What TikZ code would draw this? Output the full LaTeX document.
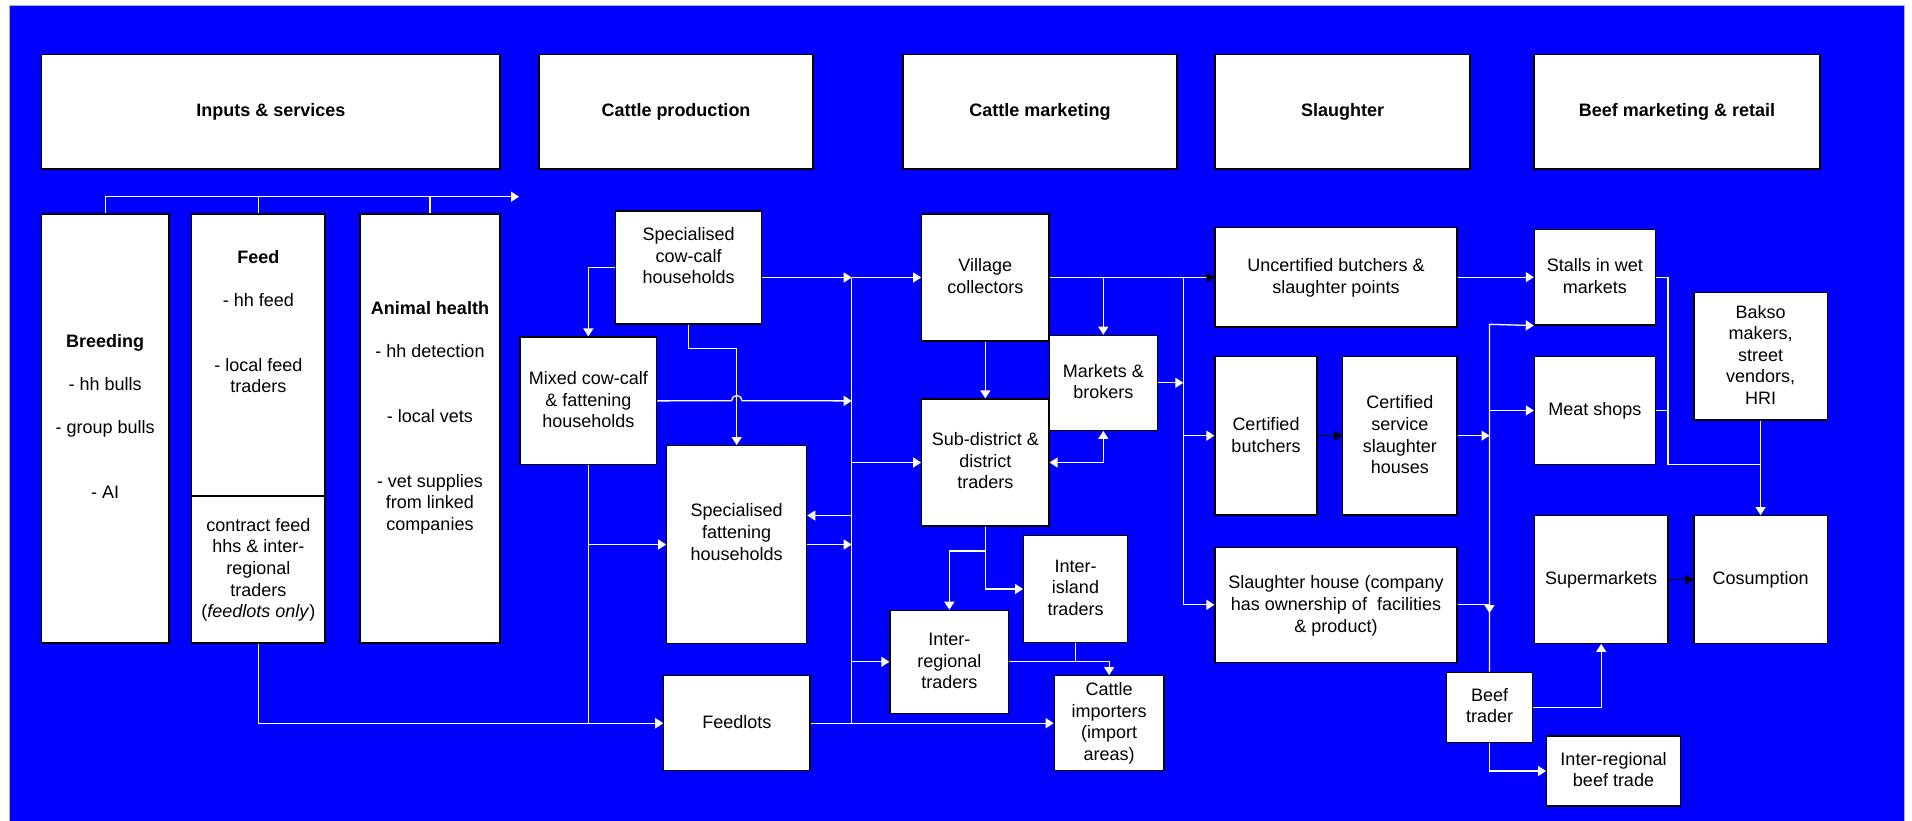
\documentclass[tikz,border=0pt]{standalone}
\usepackage{fontspec}
\setmainfont{Liberation Sans}
\usetikzlibrary{arrows.meta}
\newcommand\fs{\fontsize{18}{21.6}\selectfont}
\newcommand\NL{\\\strut}
\newcommand\bx[6]{%
  \pgfmathsetmacro\bxw{#4-#2}\pgfmathsetmacro\bxh{#5-#3}%
  \node[box,minimum width=\bxw pt,minimum height=\bxh pt] (#1) at ({(#2+#4)/2},{(#3+#5)/2}) {#6};}
\tikzset{
  box/.style={draw=black, fill=white, line width=1.2pt, inner sep=0pt, font=\fs\bfseries},
  txt/.style={align=center, inner sep=0pt, font=\fs, text=black},
  wire/.style={white, line width=1.3pt},
  blk/.style={black, line width=1.3pt, ->},
}
\begin{document}
\begin{tikzpicture}[x=1pt,y=-1pt,>={Triangle[length=8pt,width=10pt]}]
\useasboundingbox (0,0) rectangle (1912,820);
\fill[white] (0,0) rectangle (1912,820);
\filldraw[fill={rgb,255:red,0;green,0;blue,255}, draw=gray!60, line width=1pt] (9,5) rectangle (1904,822);

% headers
\bx{hin}{41.6}{54.3}{500}{169}{Inputs \& services}
\bx{hprod}{539}{54.3}{813}{169}{Cattle production}
\bx{hmkt}{903}{54.3}{1177}{169}{Cattle marketing}
\bx{hsl}{1215}{54.3}{1470}{169}{Slaughter}
\bx{hbeef}{1534}{54.3}{1820}{169}{Beef marketing \& retail}

% boxes
\bx{breed}{41.3}{214}{169}{643}{}
\bx{feed}{191.7}{214}{325}{496}{}
\bx{contract}{191.7}{496}{325}{643}{}
\bx{health}{360}{214}{500}{643}{}
\bx{cowcalf}{615.7}{211}{761.7}{324}{}
\bx{mixed}{520}{337}{656.7}{464.7}{}
\bx{fatten}{666.7}{445.7}{806.7}{643.3}{}
\bx{feedlots}{663.7}{675.7}{810}{770.7}{}
\bx{village}{921.7}{214}{1049}{341}{}
\bx{subdist}{921.7}{399}{1049}{526}{}
\bx{markets}{1049.3}{335.3}{1157.3}{430.3}{}
\bx{island}{1023.7}{535.7}{1127.3}{642.3}{}
\bx{interreg}{890}{610.3}{1008.7}{713.3}{}
\bx{importers}{1054.3}{675.7}{1164}{770.7}{}
\bx{uncert}{1215}{227.3}{1457}{327}{}
\bx{certb}{1215}{356.3}{1317}{515}{}
\bx{certs}{1342.7}{356.3}{1457}{515}{}
\bx{shouse}{1215}{547.3}{1457}{662.3}{}
\bx{stalls}{1534.4}{229.3}{1655.2}{325}{}
\bx{meat}{1534.4}{356.3}{1655.2}{464.7}{}
\bx{bakso}{1693.9}{292.3}{1827.2}{420}{}
\bx{super}{1534.4}{515.7}{1668}{643.3}{}
\bx{consum}{1693.9}{515.7}{1827.2}{643.3}{}
\bx{beeftr}{1446.2}{672.3}{1532.7}{742.3}{}
\bx{irbeef}{1546.6}{736}{1680.3}{806}{}

% texts
\node[txt] (tbreed) at (105.2,418.7) {\strut\textbf{Breeding}\NL\NL - hh bulls\NL\NL - group bulls\NL\NL\NL - AI};
\node[txt] (tfeed) at (258.3,323.5) {\strut\textbf{Feed}\NL\NL - hh feed\NL\NL\NL - local feed\NL traders};
\node[txt] (thealth) at (430,418.2) {\strut\textbf{Animal health}\NL\NL - hh detection\NL\NL\NL - local vets\NL\NL\NL - vet supplies\NL from linked\NL companies};
\node[txt] (tcontract) at (258.3,570.2) {\strut contract feed\NL hhs \& inter-\NL regional\NL traders\NL (\textit{feedlots only})};
\node[txt] (tcow) at (688.7,257.7) {\strut Specialised\NL cow-calf\NL households};
\node[txt] (tmix) at (588.3,401.7) {\strut Mixed cow-calf\NL \& fattening\NL households};
\node[txt] (tfat) at (736.7,534.2) {\strut Specialised\NL fattening\NL households};
\node[txt] (tfeedl) at (736.8,723.9) {\strut Feedlots};
\node[txt] (tvil) at (985.3,278.2) {\strut Village\NL collectors};
\node[txt] (tsub) at (985.3,463) {\strut Sub-district \&\NL district\NL traders};
\node[txt] (tmkt) at (1103.3,383.6) {\strut Markets \&\NL brokers};
\node[txt] (tisl) at (1075.5,589.5) {\strut Inter-\NL island\NL traders};
\node[txt] (tireg) at (949.3,662.7) {\strut Inter-\NL regional\NL traders};
\node[txt] (timp) at (1109.2,723.7) {\strut Cattle\NL importers\NL (import\NL areas)};
\node[txt] (tunc) at (1336,278.2) {\strut Uncertified butchers \&\NL slaughter points};
\node[txt] (tcb) at (1266,437) {\strut Certified\NL butchers};
\node[txt] (tcs) at (1399.9,437) {\strut Certified\NL service\NL slaughter\NL houses};
\node[txt] (tsh) at (1336,606.2) {\strut Slaughter house (company\NL has ownership of\ \ facilities\NL \& product)};
\node[txt] (tstall) at (1594.8,278.3) {\strut Stalls in wet\NL markets};
\node[txt] (tmeat) at (1594.8,411.2) {\strut Meat shops};
\node[txt] (tbakso) at (1760.6,357) {\strut Bakso\NL makers,\NL street\NL vendors,\NL HRI};
\node[txt] (tsuper) at (1601.2,580.2) {\strut Supermarkets};
\node[txt] (tcons) at (1760.6,580.2) {\strut Cosumption};
\node[txt] (tbeef) at (1489.5,707.7) {\strut Beef\NL trader};
\node[txt] (tirb) at (1613.5,771.7) {\strut Inter-regional\NL beef trade};

% coordinates
\coordinate (inbus) at (519,196.7);
\coordinate (busT) at (851.7,277.5);
\coordinate (busB) at (851.7,723.2);
\coordinate (sbT) at (1183.3,277.5);
\coordinate (rbT) at (1489.5,324.3);
\coordinate (mj) at (1668.1,464.7);

% inputs bus
\draw[wire,->] (breed.north) |- (inbus);
\draw[wire] (feed.north) -- (feed.north |- inbus);
\draw[wire] (health.north) -- (health.north |- inbus);

% production
\draw[wire,->] (cowcalf.west) -| (mixed.north);
\draw[wire] (busT) -- (busB);
\draw[wire,->] (cowcalf.east |- village.west) -- (busT);
\draw[wire,->] (busT) -- (village.west);
\draw[wire,->] (cowcalf.south) -- ++(0,23.7) -| (fatten.north);
\draw[wire,->] (mixed.east) -- (731.5,400.8) arc[start angle=180,end angle=0,radius=5.3pt] -- (busT |- mixed.east);
\draw[wire,->] (busT |- subdist.west) -- (subdist.west);
\draw[wire,->] (busT |- 0,515.5) -- (fatten.east |- 0,515.5);
\draw[wire,->] (fatten.east) -- (busT |- fatten.east);
\draw[wire,->] (mixed.south) |- (feedlots.west);
\draw[wire,->] (mixed.south |- fatten.west) -- (fatten.west);
\draw[wire,->] (contract.south) |- (feedlots.west);
\draw[wire,->] (busT |- interreg.west) -- (interreg.west);
\draw[wire,->] (feedlots.east) -- (importers.west);

% marketing
\draw[wire,->] (village.south) -- (subdist.north);
\draw[wire,-{Triangle[length=8pt,width=10pt,color=black,fill=black]}] (village.east) -- (uncert.west |- village.east);
\draw[wire,->] (markets.north |- village.east) -- (markets.north);
\draw[wire] (sbT) -- (sbT |- shouse.west);
\draw[wire,->] (markets.east) -- (sbT |- markets.east);
\draw[wire,->] (sbT |- certb.west) -- (certb.west);
\draw[wire,->] (sbT |- shouse.west) -- (shouse.west);
\draw[wire,<->] (subdist.east) -| (markets.south);
\draw[wire,->] (subdist.south) -- ++(0,24.3) -| (interreg.north);
\draw[wire,->] (subdist.south) |- (island.west);
\draw[wire] (island.south) -- (island.south |- interreg.east);
\draw[wire,->] (interreg.east) -| (importers.north);

% slaughter / retail
\draw[blk] (certb.east) -- (certs.west);
\draw[wire,->] (uncert.east) -- (stalls.west |- uncert.east);
\draw[wire,->] (rbT) -- (stalls.south west);
\draw[wire] (rbT) -- (beeftr.north);
\draw[wire,->] (rbT |- meat.west) -- (meat.west);
\draw[wire,->] (certs.east) -- (rbT |- certs.east);
\draw[wire] (shouse.east) -- (rbT |- shouse.east);
\draw[wire,->] (rbT |- 0,595) -- (rbT |- 0,613);
\draw[wire,->] (beeftr.east) -| (super.south);
\draw[wire,->] (beeftr.south) |- (irbeef.west);
\draw[wire] (stalls.east) -| (mj) -- (mj -| bakso.south);
\draw[wire] (meat.east) -- (mj |- meat.east);
\draw[wire,->] (bakso.south) -- (consum.north);
\draw[blk] (super.east) -- (consum.west);
\end{tikzpicture}
\end{document}
